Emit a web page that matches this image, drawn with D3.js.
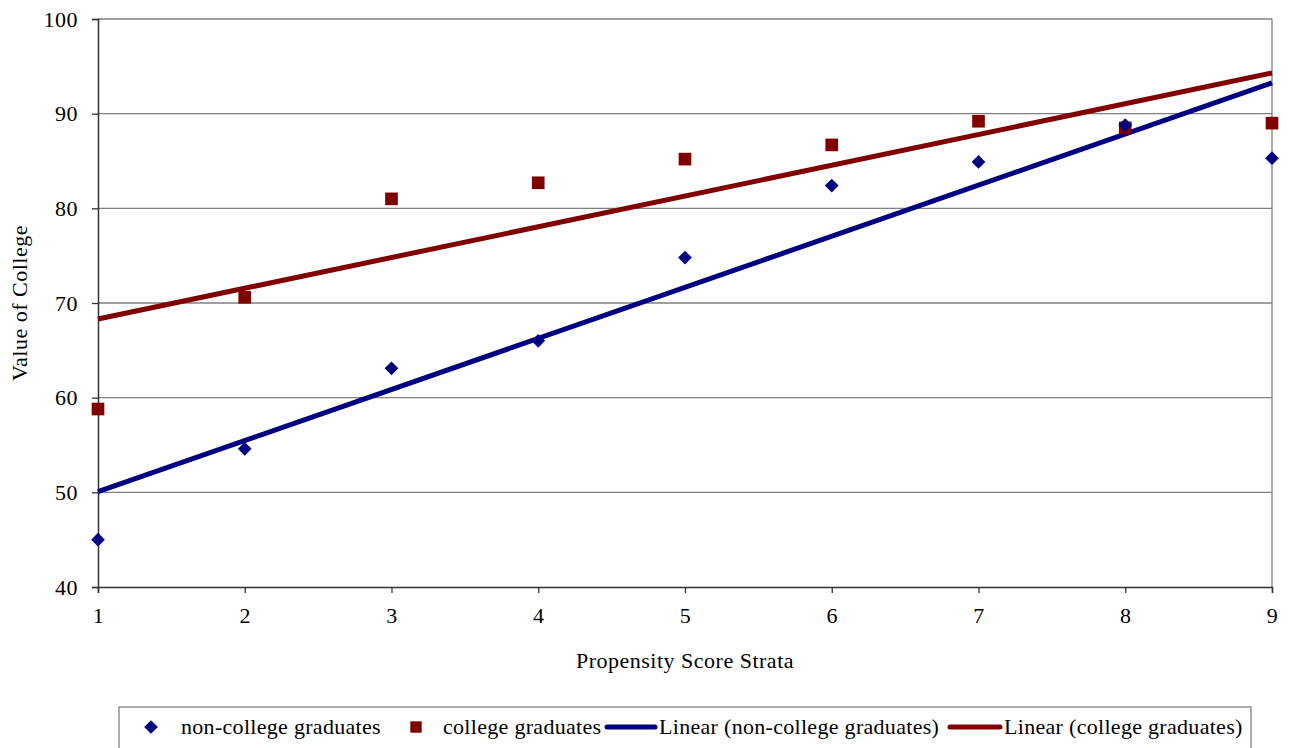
<!DOCTYPE html>
<html>
<head>
<meta charset="utf-8">
<script src="https://cdn.jsdelivr.net/npm/d3@7"></script>
<style>
  body { margin: 0; background: #fff; }
  svg text { font-family: "Liberation Serif", "Times New Roman", serif; fill: #000; font-size: 22px; letter-spacing: 0.5px; }
  .legend text { letter-spacing: 0.3px; }
</style>
</head>
<body>
<div id="chart"></div>
<script>
var strata = [1, 2, 3, 4, 5, 6, 7, 8, 9];
var nonCollege = [45.0, 54.6, 63.1, 66.0, 74.8, 82.4, 84.9, 88.8, 85.3];
var college = [58.8, 70.6, 81.0, 82.7, 85.2, 86.7, 89.2, 88.5, 89.0];
var yTicks = [40, 50, 60, 70, 80, 90, 100];

var width = 1289,
  height = 748;

var blue = "#000080",
  red = "#800000";

var svg = d3.select("#chart")
  .append("svg")
  .attr("width", width)
  .attr("height", height);

var x = d3.scaleLinear().domain([1, 9]).range([98, 1272]);
var y = d3.scaleLinear().domain([40, 100]).range([587, 19]);

// least squares trend line
function fit(xs, ys) {
  var mx = d3.mean(xs), my = d3.mean(ys), sxy = 0, sxx = 0;
  xs.forEach(function(v, i) { sxy += (v - mx) * (ys[i] - my); sxx += (v - mx) * (v - mx); });
  var b = sxy / sxx;
  return function(v) { return my + b * (v - mx); };
}

// gridlines
svg.append("g")
  .selectAll("line")
  .data(yTicks.slice(1))
  .enter().append("line")
    .attr("x1", x(1)).attr("x2", x(9))
    .attr("y1", function(d) { return y(d); })
    .attr("y2", function(d) { return y(d); })
    .attr("stroke", "#808080")
    .attr("stroke-width", 1.3);

// right border
svg.append("line")
  .attr("x1", x(9)).attr("x2", x(9))
  .attr("y1", y(100)).attr("y2", y(40))
  .attr("stroke", "#808080")
  .attr("stroke-width", 1.3);

var yAxis = svg.append("g")
  .attr("transform", "translate(" + x(1) + ",0)")
  .call(d3.axisLeft(y).tickValues(yTicks).tickSize(6).tickPadding(14));

var xAxis = svg.append("g")
  .attr("transform", "translate(0," + y(40) + ")")
  .call(d3.axisBottom(x).tickValues(strata).tickSize(6).tickPadding(14));

[yAxis, xAxis].forEach(function(g) {
  g.attr("font-size", null).attr("font-family", null);
  g.select(".domain").attr("stroke", "#333").attr("stroke-width", 1.5);
  g.selectAll(".tick line").attr("stroke", "#333").attr("stroke-width", 1.3);
});

// trend lines
var fitN = fit(strata, nonCollege), fitC = fit(strata, college);
[[fitC, red], [fitN, blue]].forEach(function(p) {
  svg.append("line")
    .attr("x1", x(1)).attr("y1", y(p[0](1)))
    .attr("x2", x(9)).attr("y2", y(p[0](9)))
    .attr("stroke", p[1])
    .attr("stroke-width", 5);
});

var diamond = d3.symbol().type(d3.symbolDiamond2).size(120);
var square = d3.symbol().type(d3.symbolSquare).size(160);

svg.append("g").selectAll("path")
  .data(strata)
  .enter().append("path")
    .attr("d", square)
    .attr("transform", function(d, i) { return "translate(" + x(d) + "," + y(college[i]) + ")"; })
    .attr("fill", red);

svg.append("g").selectAll("path")
  .data(strata)
  .enter().append("path")
    .attr("d", diamond)
    .attr("transform", function(d, i) { return "translate(" + x(d) + "," + y(nonCollege[i]) + ")"; })
    .attr("fill", blue);

// axis titles
svg.append("text")
  .attr("x", 685).attr("y", 668)
  .attr("text-anchor", "middle")
  .text("Propensity Score Strata");

svg.append("text")
  .attr("transform", "translate(27,303) rotate(-90)")
  .attr("text-anchor", "middle")
  .text("Value of College");

// legend
var legend = svg.append("g").attr("class", "legend");
legend.append("rect")
  .attr("x", 119).attr("y", 707)
  .attr("width", 1132).attr("height", 60)
  .attr("fill", "none")
  .attr("stroke", "#808080")
  .attr("stroke-width", 1.3);

var ly = 727;
legend.append("path").attr("d", diamond).attr("fill", blue)
  .attr("transform", "translate(151," + ly + ")");
legend.append("text").attr("x", 181).attr("y", ly + 7)
  .text("non-college graduates");
legend.append("path").attr("d", d3.symbol().type(d3.symbolSquare).size(130)).attr("fill", red)
  .attr("transform", "translate(416," + ly + ")");
legend.append("text").attr("x", 443).attr("y", ly + 7)
  .text("college graduates");
legend.append("line").attr("x1", 607).attr("x2", 655).attr("y1", ly).attr("y2", ly)
  .attr("stroke", blue).attr("stroke-width", 5).attr("stroke-linecap", "round");
legend.append("text").attr("x", 659).attr("y", ly + 7)
  .text("Linear (non-college graduates)");
legend.append("line").attr("x1", 950).attr("x2", 1000).attr("y1", ly).attr("y2", ly)
  .attr("stroke", red).attr("stroke-width", 5).attr("stroke-linecap", "round");
legend.append("text").attr("x", 1004).attr("y", ly + 7)
  .text("Linear (college graduates)");
</script>
</body>
</html>
